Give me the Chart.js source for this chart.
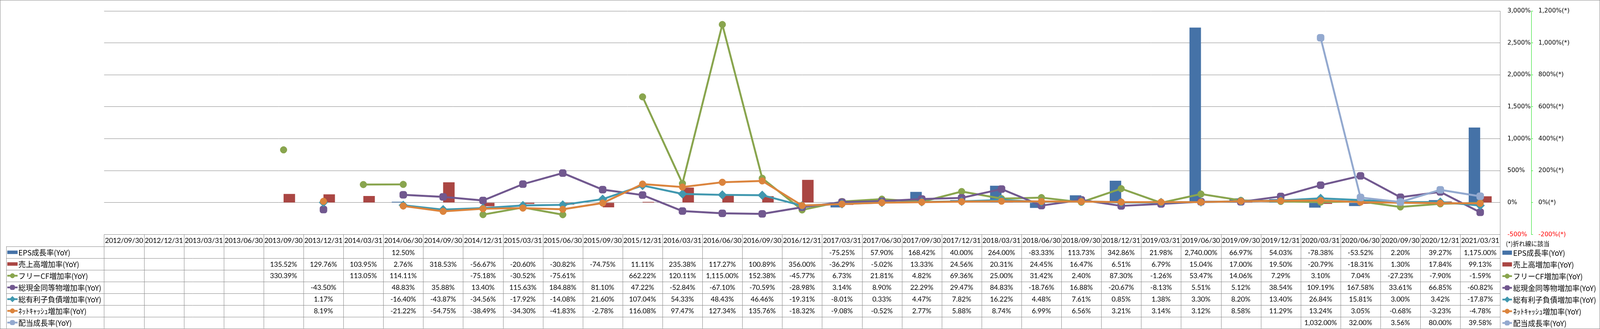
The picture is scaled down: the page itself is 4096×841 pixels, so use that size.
<!DOCTYPE html>
<html>
<head>
<meta charset="utf-8">
<script src="https://cdn.jsdelivr.net/npm/chart.js@4"></script>
<style>
html, body { margin: 0; padding: 0; background: #fff; }
#wrap { width: 4096px; height: 841px; }
</style>
</head>
<body>
<div id="wrap"><canvas id="growthChart" width="4096" height="841"></canvas></div>
<script>
// reference was 4181 wide, everything is scaled down to the window
const S = 4096 / 4181;

const categories = [
    "2012/09/30", "2012/12/31", "2013/03/31", "2013/06/30", "2013/09/30", "2013/12/31",
    "2014/03/31", "2014/06/30", "2014/09/30", "2014/12/31", "2015/03/31", "2015/06/30",
    "2015/09/30", "2015/12/31", "2016/03/31", "2016/06/30", "2016/09/30", "2016/12/31",
    "2017/03/31", "2017/06/30", "2017/09/30", "2017/12/31", "2018/03/31", "2018/06/30",
    "2018/09/30", "2018/12/31", "2019/03/31", "2019/06/30", "2019/09/30", "2019/12/31",
    "2020/03/31", "2020/06/30", "2020/09/30", "2020/12/31", "2021/03/31"
];

// bars, left scale (-500% .. 3000%)
const epsGrowth = [
    null, null, null, null, null, null, null, 12.50, null, null, null, null,
    null, null, null, null, null, null, -75.25, 57.90, 168.42, 40.00, 264.00, -83.33,
    113.73, 342.86, 21.98, 2740.00, 66.97, 54.03, -78.38, -53.52, 2.20, 39.27, 1175.00
];
const salesGrowth = [
    null, null, null, null, 135.52, 129.76, 103.95, 2.76, 318.53, -56.67, -20.60, -30.82,
    -74.75, 11.11, 235.38, 117.27, 100.89, 356.00, -36.29, -5.02, 13.33, 24.56, 20.31, 24.45,
    16.47, 6.51, 6.79, 15.04, 17.00, 19.50, -20.79, -18.31, 1.30, 17.84, 99.13
];

// lines, (*) scale (-200% .. 1200%)
const fcfGrowth = [
    null, null, null, null, 330.39, null, 113.05, 114.11, null, -75.18, -30.52, -75.61,
    null, 662.22, 120.11, 1115.00, 152.38, -45.77, 6.73, 21.81, 4.82, 69.36, 25.00, 31.42,
    2.40, 87.30, -1.26, 53.47, 14.06, 7.29, 3.10, 7.04, -27.23, -7.90, -1.59
];
const cashGrowth = [
    null, null, null, null, null, -43.50, null, 48.83, 35.88, 13.40, 115.63, 184.88,
    81.10, 47.22, -52.84, -67.10, -70.59, -28.98, 3.14, 8.90, 22.29, 29.47, 84.83, -18.76,
    16.88, -20.67, -8.13, 5.51, 5.12, 38.54, 109.19, 167.58, 33.61, 66.85, -60.82
];
const debtGrowth = [
    null, null, null, null, null, 1.17, null, -16.40, -43.87, -34.56, -17.92, -14.08,
    21.60, 107.04, 54.33, 48.43, 46.46, -19.31, -8.01, 0.33, 4.47, 7.82, 16.22, 4.48,
    7.61, 0.85, 1.38, 3.30, 8.20, 13.40, 26.84, 15.81, 3.00, 3.42, -17.87
];
const netCashGrowth = [
    null, null, null, null, null, 8.19, null, -21.22, -54.75, -38.49, -34.30, -41.83,
    -2.78, 116.08, 97.47, 127.34, 135.76, -18.32, -9.08, -0.52, 2.77, 5.88, 8.74, 6.99,
    6.56, 3.21, 3.14, 3.12, 8.58, 11.29, 13.24, 3.05, -0.68, -3.23, -4.78
];
const dividendGrowth = [
    null, null, null, null, null, null, null, null, null, null, null, null,
    null, null, null, null, null, null, null, null, null, null, null, null,
    null, null, null, null, null, null, 1032.00, 32.00, 3.56, 80.00, 39.58
];

const seriesNames = [
    "EPS成長率(YoY)", "売上高増加率(YoY)", "フリーCF増加率(YoY)", "総現金同等物増加率(YoY)",
    "総有利子負債増加率(YoY)", "ﾈｯﾄｷｬｯｼｭ増加率(YoY)", "配当成長率(YoY)"
];
const seriesColors = ["#4572A7", "#AA4643", "#89A54E", "#71588F", "#4198AF", "#DB843D", "#93A9CF"];
const markerStyles = [null, null, "circle", "rectRounded", "rectRot", "circle", "rectRounded"];
const markerRadius = [0, 0, 8.8, 10.8, 11.5, 8.8, 10.8];
const keyRadius = [0, 0, 6, 7, 7.5, 6, 7];

const leftTicks = { min: -500, max: 3000, step: 500 };
const starTicks = { min: -200, max: 1200, step: 200 };

const gridGray = "#868686";
const tableFont = "Lato, 'Noto Sans CJK JP', sans-serif";
const jpFont = "'Noto Sans CJK JP', sans-serif";

function fmtNum(v) {
    return v.toLocaleString("en-US");
}
function fmtCell(v) {
    return v.toLocaleString("en-US", { minimumFractionDigits: 2, maximumFractionDigits: 2 }) + "%";
}

const allSeries = [epsGrowth, salesGrowth, fcfGrowth, cashGrowth, debtGrowth, netCashGrowth, dividendGrowth];

function lineDataset(i) {
    return {
        type: "line",
        label: seriesNames[i],
        data: allSeries[i],
        yAxisID: "y1",
        borderColor: seriesColors[i],
        backgroundColor: seriesColors[i],
        borderWidth: 5 * S,
        pointStyle: markerStyles[i],
        pointRadius: markerRadius[i] * S,
        pointBackgroundColor: seriesColors[i],
        pointBorderColor: seriesColors[i],
        pointBorderWidth: 1,
        tension: 0,
        spanGaps: false,
        order: 7 - i
    };
}

// key symbol used in the table and in the legend on the right
function drawKey(ctx, i, x0, x1, cy, barH) {
    ctx.save();
    if (i < 2) {
        ctx.fillStyle = seriesColors[i];
        ctx.fillRect(x0, cy - barH / 2, x1 - x0, barH);
    } else {
        ctx.strokeStyle = seriesColors[i];
        ctx.lineWidth = 4.5 * S;
        ctx.beginPath();
        ctx.moveTo(x0, cy);
        ctx.lineTo(x1, cy);
        ctx.stroke();
        ctx.fillStyle = seriesColors[i];
        ctx.lineWidth = 1;
        Chart.helpers.drawPoint(ctx, {
            pointStyle: markerStyles[i], radius: keyRadius[i] * S, rotation: 0, borderWidth: 1
        }, (x0 + x1) / 2, cy);
    }
    ctx.restore();
}

const tablePlugin = {
    id: "dataTable",
    afterDraw(chart) {
        const ctx = chart.ctx;
        const area = chart.chartArea;
        const xs = chart.scales.x;
        const cw = (area.right - area.left) / categories.length;
        const headTop = area.bottom;
        const rowTop = 643 * S;
        const rowH = (857 - 643) / 7 * S;
        const tableBottom = 857 * S;
        const labelLeft = 16 * S;

        ctx.save();
        ctx.strokeStyle = gridGray;
        ctx.lineWidth = 1;

        // horizontal lines
        for (let r = 0; r <= 7; r++) {
            const y = Math.round(rowTop + r * rowH) + 0.5;
            ctx.beginPath();
            ctx.moveTo(labelLeft, y);
            ctx.lineTo(area.right, y);
            ctx.stroke();
        }
        // column lines
        for (let c = 0; c <= categories.length; c++) {
            const x = Math.round(area.left + c * cw) + 0.5;
            ctx.beginPath();
            ctx.moveTo(x, headTop);
            ctx.lineTo(x, tableBottom);
            ctx.stroke();
        }
        // label column left edge
        ctx.beginPath();
        ctx.moveTo(Math.round(labelLeft) + 0.5, rowTop);
        ctx.lineTo(Math.round(labelLeft) + 0.5, tableBottom);
        ctx.stroke();

        // header dates
        ctx.fillStyle = "#000";
        ctx.textAlign = "center";
        ctx.textBaseline = "middle";
        ctx.font = (18 * S) + "px " + tableFont;
        categories.forEach((c, i) => {
            ctx.fillText(c, xs.getPixelForValue(i), (headTop + rowTop) / 2 + 1);
        });

        // values
        allSeries.forEach((vals, r) => {
            const cy = rowTop + (r + 0.5) * rowH + 1;
            vals.forEach((v, i) => {
                if (v === null) return;
                ctx.fillText(fmtCell(v), xs.getPixelForValue(i), cy);
            });
        });

        // row labels with keys
        ctx.textAlign = "left";
        ctx.font = (19.3 * S) + "px " + jpFont;
        seriesNames.forEach((name, r) => {
            const cy = rowTop + (r + 0.5) * rowH;
            drawKey(ctx, r, 19 * S, 46 * S, cy, 9 * S);
            ctx.fillStyle = "#000";
            ctx.fillText(name, 48 * S, cy + 1);
        });

        // legend on the right
        ctx.font = (16 * S) + "px " + jpFont;
        ctx.fillText("(*)折れ線に該当", 3935 * S, 636 * S);
        ctx.font = (19.3 * S) + "px " + jpFont;
        seriesNames.forEach((name, r) => {
            const cy = rowTop + (r + 0.5) * rowH + 1;
            drawKey(ctx, r, 3926 * S, 3951 * S, cy, 11 * S);
            ctx.fillStyle = "#000";
            ctx.fillText(name, 3954 * S, cy + 1);
        });

        // outer frame
        ctx.strokeStyle = gridGray;
        ctx.strokeRect(0.5, 0.5, chart.width - 1, chart.height - 1);
        ctx.restore();
    }
};

new Chart(document.getElementById("growthChart"), {
    data: {
        labels: categories,
        datasets: [
            { type: "bar", label: seriesNames[0], data: epsGrowth, yAxisID: "y",
              backgroundColor: seriesColors[0], order: 9 },
            { type: "bar", label: seriesNames[1], data: salesGrowth, yAxisID: "y",
              backgroundColor: seriesColors[1], order: 10 },
            lineDataset(2),
            lineDataset(3),
            lineDataset(4),
            lineDataset(5),
            lineDataset(6)
        ]
    },
    options: {
        responsive: false,
        devicePixelRatio: 1,
        animation: false,
        layout: { padding: { left: 272 * S, top: 13 * S, right: 0, bottom: 841 - 612 * S } },
        datasets: { bar: { categoryPercentage: 60 / 104.2, barPercentage: 1.0 } },
        plugins: { legend: { display: false }, tooltip: { enabled: false }, title: { display: false } },
        scales: {
            x: { type: "category", offset: true, display: false },
            y: {
                position: "right",
                weight: 0,
                min: leftTicks.min,
                max: leftTicks.max,
                afterFit(scale) { scale.width = (4002 - 3920) * S; },
                ticks: {
                    stepSize: leftTicks.step,
                    padding: 19 * S,
                    font: { family: "'DejaVu Sans'", size: 16 * S },
                    color: (c) => c.tick.value < 0 ? "#FF0000" : "#000",
                    callback: (v) => fmtNum(v) + "%"
                },
                grid: { color: gridGray, lineWidth: 1, drawTicks: false },
                border: { display: true, color: gridGray, width: 1 }
            },
            y1: {
                position: "right",
                weight: 1,
                min: starTicks.min,
                max: starTicks.max,
                afterFit(scale) { scale.width = 4096 - 4002 * S; },
                ticks: {
                    stepSize: starTicks.step,
                    padding: 14 * S,
                    font: { family: "'DejaVu Sans'", size: 16 * S },
                    color: (c) => c.tick.value < 0 ? "#FF0000" : "#000",
                    callback: (v) => fmtNum(v) + "%(*)"
                },
                grid: { drawOnChartArea: false, drawTicks: true, tickLength: 4 * S, color: "#11DD11", lineWidth: 1 },
                border: { display: true, color: "#11DD11", width: 1, dash: [4, 3] }
            }
        }
    },
    plugins: [tablePlugin]
});
</script>
</body>
</html>
